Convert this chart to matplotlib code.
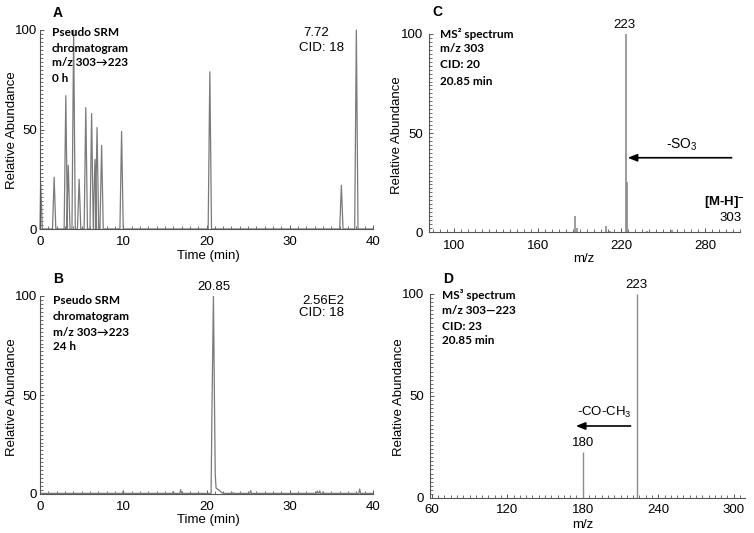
import matplotlib
matplotlib.use("Agg")
import matplotlib.pyplot as plt
from matplotlib.ticker import MultipleLocator, FixedLocator
import numpy as np

plt.rcParams['font.family'] = ['Liberation Sans', 'DejaVu Sans']
plt.rcParams['mathtext.fontset'] = 'custom'
plt.rcParams['mathtext.rm'] = 'Liberation Sans'
plt.rcParams['mathtext.it'] = 'Liberation Sans:italic'
plt.rcParams['mathtext.bf'] = 'Liberation Sans:bold'

# ---------------- data ----------------
# Panel A: pseudo SRM chromatogram 0 h (retention time, relative abundance)
a_times = [0.08, 1.7, 3.1, 3.4, 4.04, 4.7, 5.5, 6.2, 6.6, 6.85, 7.4, 9.8, 20.4, 36.2, 38.0]
a_heights = [23, 26, 67, 32, 100, 25, 61, 58, 35, 51, 42, 49, 79, 22, 100]

# Panel B: pseudo SRM chromatogram 24 h
b_main_t = [20.55, 20.65, 20.83, 20.95, 21.05, 21.15, 21.5, 21.75, 22.0]
b_main_y = [0.3, 40, 100, 50, 10, 3, 2, 1, 0.3]
b_small_t = [10.0, 16.0, 16.9, 23.2, 25.3, 33.3, 33.6, 34.0, 38.4]
b_small_y = [1.5, 1.2, 2.2, 0.7, 1.7, 1.5, 1.6, 1.0, 2.5]
b_baseline = 0.3

# Panel C: MS2 spectrum of m/z 303
c_mz = [187, 188, 209, 212, 223, 224, 238, 256]
c_int = [8, 2, 3, 0.5, 100, 25.5, 0.5, 1.0]

# Panel D: MS3 spectrum m/z 303-223
d_mz = [180, 223]
d_int = [22.5, 100]

W, H = 754, 533
fig = plt.figure(figsize=(W / 100, H / 100), dpi=100)

def px_axes(left, right, top, bottom):
    return fig.add_axes([left / W, 1 - bottom / H, (right - left) / W, (bottom - top) / H])

axA = px_axes(40, 373, 30, 229)
axB = px_axes(40, 373, 296, 494)
axC = px_axes(429, 740, 34, 232)
axD = px_axes(430, 745, 294, 498)

line_col = '#7a7a7a'
spine_col = '#555555'

def style(ax, xlim, xmajor, xminor, ypad, xpad):
    ax.set_ylim(0, 100)
    ax.set_xlim(*xlim)
    for s in ['top', 'right']:
        ax.spines[s].set_visible(False)
    for s in ['left', 'bottom']:
        ax.spines[s].set_color(spine_col)
        ax.spines[s].set_linewidth(0.8)
    ax.yaxis.set_major_locator(FixedLocator([0, 50, 100]))
    ax.yaxis.set_minor_locator(MultipleLocator(2))
    ax.xaxis.set_major_locator(FixedLocator(xmajor))
    ax.xaxis.set_minor_locator(MultipleLocator(xminor))
    ax.tick_params(which='both', direction='in', color=spine_col, labelsize=9.5)
    ax.tick_params(which='major', length=3, width=0.7)
    ax.tick_params(which='minor', length=2, width=0.6)
    ax.tick_params(axis='y', pad=ypad)
    ax.tick_params(axis='x', pad=xpad)
    ax.set_ylabel('Relative Abundance', fontsize=9.5)

style(axA, (0, 40), [0, 10, 20, 30, 40], 1, 2, 5)
style(axB, (0, 40), [0, 10, 20, 30, 40], 1, 2, 5)
style(axC, (82, 305), [100, 160, 220, 280], 5, 4.2, 5.5)
style(axD, (58.5, 309), [60, 120, 180, 240, 300], 5, 4.2, 4.5)

def label_coords(ax, left, right, top, bottom, xl, yl):
    # xl, yl are (px_x, px_y) centers for xlabel and ylabel
    w = right - left
    h = bottom - top
    ax.xaxis.set_label_coords((xl[0] - left) / w, (bottom - xl[1]) / h)
    ax.yaxis.set_label_coords((yl[0] - left) / w, (bottom - yl[1]) / h)
    ax.xaxis.label.set_va('center')
    ax.yaxis.label.set_va('center')

# ---- Panel A: triangular peaks
hw = 0.2
ta, ya = [0.0], [0.0]
for t, h in zip(a_times, a_heights):
    ta += [max(t - hw, 0), t, t + hw]
    ya += [0, h, 0]
ta.append(40); ya.append(0)
axA.plot(ta, ya, color=line_col, lw=0.9, clip_on=False)
axA.set_xlabel('Time (min)', fontsize=9.5)
label_coords(axA, 40, 373, 30, 229, (208, 256), (12, 130))

# ---- Panel B
tb, yb = [0.0], [b_baseline]
events = sorted([(t, h, 'small') for t, h in zip(b_small_t, b_small_y)] + [(b_main_t[0], None, 'main')])
for t, h, kind in events:
    if kind == 'small':
        tb += [t - 0.1, t, t + 0.1]
        yb += [b_baseline, h, b_baseline]
    else:
        tb += b_main_t
        yb += b_main_y
tb.append(40); yb.append(b_baseline)
axB.plot(tb, yb, color=line_col, lw=0.9)
axB.set_xlabel('Time (min)', fontsize=9.5)
label_coords(axB, 40, 373, 296, 494, (208, 520), (12, 397))

# ---- Panel C
axC.vlines(c_mz, 0, c_int, color='#8a8a8a', lw=1.2)
axC.set_xlabel('m/z', fontsize=9.5)
label_coords(axC, 429, 740, 34, 232, (584, 259), (397, 135))
axC.text(222, 101.5, '223', ha='center', va='bottom', fontsize=9.5)
axC.annotate('', xy=(224.5, 37.5), xytext=(299, 37.5),
             arrowprops=dict(arrowstyle='-|>,head_length=0.55,head_width=0.22',
                             color='black', lw=1.2, shrinkA=0, shrinkB=0))
axC.text(263, 44, '-SO$_\\mathrm{3}$', ha='center', va='center', fontsize=10)
axC.text(294, 14.5, '[M-H]$^{\\mathbf{-}}$', ha='center', va='center', fontsize=9.5,
         fontweight='bold')
axC.text(298, 7, '303', ha='center', va='center', fontsize=9.5)

# ---- Panel D
axD.vlines(d_mz, 0, d_int, color='#8a8a8a', lw=1.0)
axD.set_xlabel('m/z', fontsize=9.5)
label_coords(axD, 430, 745, 294, 498, (583, 525), (399, 397))
axD.text(223, 101.5, '223', ha='center', va='bottom', fontsize=9.5)
axD.text(180, 24, '180', ha='center', va='bottom', fontsize=9.5)
axD.annotate('', xy=(174.5, 35.3), xytext=(218, 35.3),
             arrowprops=dict(arrowstyle='-|>,head_length=0.55,head_width=0.22',
                             color='black', lw=1.2, shrinkA=0, shrinkB=0))
axD.text(197, 42, '-CO-CH$_\\mathrm{3}$', ha='center', va='center', fontsize=9.5)

# ---- free texts (pixel positions)
def ftext(x, y, s, **kw):
    fig.text(x / W, 1 - y / H, s, va='center', **kw)

bold_kw = dict(family=['Lato', 'DejaVu Sans'], fontweight='bold', fontsize=8.5, ha='left')
for lab, (x, y) in zip(['A', 'B', 'C', 'D'], [(58, 13), (58, 279), (437, 12), (448, 279)]):
    ftext(x, y, lab, ha='center', fontweight='bold', fontsize=10)

for s, y in zip(['Pseudo SRM', 'chromatogram', 'm/z 303\u2192223', '0 h'], [33, 48, 63, 79]):
    ftext(52, y, s, **bold_kw)
for s, y in zip(['Pseudo SRM', 'chromatogram', 'm/z 303\u2192223', '24 h'], [301, 316, 332, 347]):
    ftext(53, y, s, **bold_kw)
for s, y in zip(['MS\u00b2 spectrum', 'm/z 303', 'CID: 20', '20.85 min'], [34, 49, 65, 81]):
    ftext(440, y, s, **bold_kw)
for s, y in zip(['MS\u00b3 spectrum', 'm/z 303\u2014223', 'CID: 23', '20.85 min'], [295, 310, 326, 341]):
    ftext(442, y, s, **bold_kw)

ftext(303, 33, '7.72', ha='left', fontsize=9.5)
ftext(299, 48, 'CID: 18', ha='left', fontsize=9.5)
axB.text(20.85, 101.5, '20.85', ha='center', va='bottom', fontsize=9.5)
ftext(302, 301, '2.56E2', ha='left', fontsize=9.5)
ftext(299, 313, 'CID: 18', ha='left', fontsize=9.5)

fig.savefig('out.png', dpi=100)
